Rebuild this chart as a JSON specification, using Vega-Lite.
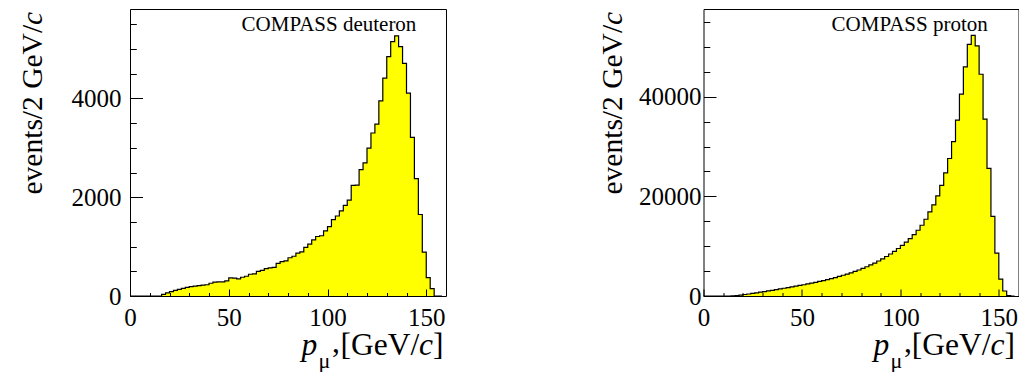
{
  "$schema": "https://vega.github.io/schema/vega-lite/v6.json",
  "background": "white",
  "padding": {"left": 16, "top": 8, "right": 0, "bottom": 0},
  "spacing": 257.5,
  "bounds": "flush",
  "datasets": {
    "deuteron": [
      {"p": 0, "n": 0}, {"p": 2, "n": 0}, {"p": 4, "n": 0}, {"p": 6, "n": 0},
      {"p": 8, "n": 0}, {"p": 10, "n": 0}, {"p": 12, "n": 0}, {"p": 14, "n": 0},
      {"p": 16, "n": 34}, {"p": 18, "n": 65}, {"p": 20, "n": 90}, {"p": 22, "n": 115},
      {"p": 24, "n": 135}, {"p": 26, "n": 155}, {"p": 28, "n": 175}, {"p": 30, "n": 190},
      {"p": 32, "n": 200}, {"p": 34, "n": 212}, {"p": 36, "n": 222}, {"p": 38, "n": 228},
      {"p": 40, "n": 258}, {"p": 42, "n": 282}, {"p": 44, "n": 285}, {"p": 46, "n": 285},
      {"p": 48, "n": 305}, {"p": 50, "n": 365}, {"p": 52, "n": 360}, {"p": 54, "n": 345},
      {"p": 56, "n": 380}, {"p": 58, "n": 400}, {"p": 60, "n": 440}, {"p": 62, "n": 448},
      {"p": 64, "n": 500}, {"p": 66, "n": 520}, {"p": 68, "n": 555}, {"p": 70, "n": 570},
      {"p": 72, "n": 578}, {"p": 74, "n": 660}, {"p": 76, "n": 695}, {"p": 78, "n": 712},
      {"p": 80, "n": 774}, {"p": 82, "n": 805}, {"p": 84, "n": 868}, {"p": 86, "n": 895},
      {"p": 88, "n": 985}, {"p": 90, "n": 1050}, {"p": 92, "n": 1135}, {"p": 94, "n": 1205},
      {"p": 96, "n": 1220}, {"p": 98, "n": 1320}, {"p": 100, "n": 1405}, {"p": 102, "n": 1545},
      {"p": 104, "n": 1620}, {"p": 106, "n": 1725}, {"p": 108, "n": 1835}, {"p": 110, "n": 1940},
      {"p": 112, "n": 2240}, {"p": 114, "n": 2245}, {"p": 116, "n": 2560}, {"p": 118, "n": 2695},
      {"p": 120, "n": 2995}, {"p": 122, "n": 3300}, {"p": 124, "n": 3480}, {"p": 126, "n": 3950},
      {"p": 128, "n": 4410}, {"p": 130, "n": 4845}, {"p": 132, "n": 5150}, {"p": 134, "n": 5265},
      {"p": 136, "n": 5050}, {"p": 138, "n": 4710}, {"p": 140, "n": 4105}, {"p": 142, "n": 3210},
      {"p": 144, "n": 2375}, {"p": 146, "n": 1650}, {"p": 148, "n": 890}, {"p": 150, "n": 370},
      {"p": 152, "n": 148}, {"p": 154, "n": 0}, {"p": 156, "n": 0}, {"p": 158, "n": 0}
    ],
    "proton": [
      {"p": 0, "n": 0}, {"p": 2, "n": 0}, {"p": 4, "n": 0}, {"p": 6, "n": 0},
      {"p": 8, "n": 0}, {"p": 10, "n": 0}, {"p": 12, "n": 0}, {"p": 14, "n": 10},
      {"p": 16, "n": 60}, {"p": 18, "n": 170}, {"p": 20, "n": 300}, {"p": 22, "n": 400},
      {"p": 24, "n": 520}, {"p": 26, "n": 640}, {"p": 28, "n": 760}, {"p": 30, "n": 890},
      {"p": 32, "n": 1010}, {"p": 34, "n": 1140}, {"p": 36, "n": 1270}, {"p": 38, "n": 1420},
      {"p": 40, "n": 1560}, {"p": 42, "n": 1700}, {"p": 44, "n": 1840}, {"p": 46, "n": 1980},
      {"p": 48, "n": 2120}, {"p": 50, "n": 2260}, {"p": 52, "n": 2420}, {"p": 54, "n": 2580},
      {"p": 56, "n": 2740}, {"p": 58, "n": 2920}, {"p": 60, "n": 3100}, {"p": 62, "n": 3290},
      {"p": 64, "n": 3480}, {"p": 66, "n": 3690}, {"p": 68, "n": 3920}, {"p": 70, "n": 4160},
      {"p": 72, "n": 4400}, {"p": 74, "n": 4650}, {"p": 76, "n": 4930}, {"p": 78, "n": 5220},
      {"p": 80, "n": 5530}, {"p": 82, "n": 5870}, {"p": 84, "n": 6230}, {"p": 86, "n": 6610},
      {"p": 88, "n": 7020}, {"p": 90, "n": 7460}, {"p": 92, "n": 7930}, {"p": 94, "n": 8430},
      {"p": 96, "n": 8960}, {"p": 98, "n": 9530}, {"p": 100, "n": 10150}, {"p": 102, "n": 10800},
      {"p": 104, "n": 11500}, {"p": 106, "n": 12300}, {"p": 108, "n": 13200}, {"p": 110, "n": 14200},
      {"p": 112, "n": 15400}, {"p": 114, "n": 16900}, {"p": 116, "n": 18300}, {"p": 118, "n": 20100},
      {"p": 120, "n": 22200}, {"p": 122, "n": 24700}, {"p": 124, "n": 27600}, {"p": 126, "n": 31000},
      {"p": 128, "n": 35300}, {"p": 130, "n": 40500}, {"p": 132, "n": 46000}, {"p": 134, "n": 50500},
      {"p": 136, "n": 52300}, {"p": 138, "n": 50200}, {"p": 140, "n": 44500}, {"p": 142, "n": 35500},
      {"p": 144, "n": 25600}, {"p": 146, "n": 16000}, {"p": 148, "n": 8600}, {"p": 150, "n": 3400},
      {"p": 152, "n": 1000}, {"p": 154, "n": 100}, {"p": 156, "n": 0}, {"p": 158, "n": 0}
    ]
  },
  "hconcat": [
    {
      "width": 316,
      "height": 287,
      "data": {"name": "deuteron"},
      "layer": [
        {
          "mark": {"type": "area", "interpolate": "step-after", "color": "#ffff00"},
          "encoding": {
            "x": {"field": "p", "type": "quantitative", "scale": {"domain": [0, 160], "nice": false, "zero": false},
              "axis": {"orient": "bottom", "values": [0, 10, 20, 30, 40, 50, 60, 70, 80, 90, 100, 110, 120, 130, 140, 150],
                "domain": false, "grid": false, "zindex": 1, "tickColor": "black", "tickWidth": 1,
                "tickSize": {"condition": {"test": "datum.value % 50 === 0", "value": -7}, "value": -3.5},
                "format": "d", "labelExpr": "datum.value % 50 === 0 ? datum.label : ''",
                "labelFont": "Liberation Serif", "labelFontSize": 25, "labelColor": "black", "labelBaseline": "alphabetic",
                "labelPadding": 36, "labelFlush": false, "labelOverlap": false,
                "title": "p", "titleFont": "Liberation Serif", "titleFontSize": 31.5, "titleFontStyle": "italic", "titleFontWeight": "normal",
                "titleColor": "black", "titleAlign": "left", "titleBaseline": "alphabetic", "titleX": 171, "titleY": 58}},
            "y": {"field": "n", "type": "quantitative", "scale": {"domain": [0, 5810], "nice": false},
              "axis": {"orient": "left", "values": [0, 500, 1000, 1500, 2000, 2500, 3000, 3500, 4000, 4500, 5000, 5500],
                "domain": false, "grid": false, "zindex": 1, "tickColor": "black", "tickWidth": 1,
                "tickSize": {"condition": {"test": "datum.value % 2000 === 0", "value": -12.5}, "value": -6.3},
                "format": "d", "labelExpr": "datum.value % 2000 === 0 ? datum.label : ''",
                "labelFont": "Liberation Serif", "labelFontSize": 25, "labelColor": "black", "labelBaseline": "middle", "labelAlign": "right",
                "labelPadding": 21.5, "labelFlush": false, "labelOverlap": false,
                "title": "events/2 GeV/", "titleFont": "Liberation Serif", "titleFontSize": 29.5, "titleFontWeight": "normal",
                "titleColor": "black", "titleAngle": 270, "titleAlign": "left", "titleBaseline": "alphabetic", "titleX": -89, "titleY": 185}}
          }
        },
        {
          "mark": {"type": "line", "interpolate": "step-after", "color": "black", "strokeWidth": 1.2},
          "encoding": {
            "x": {"field": "p", "type": "quantitative", "scale": {"domain": [0, 160], "nice": false, "zero": false},
              "axis": {"orient": "bottom", "domain": false, "ticks": false, "labels": false, "grid": false,
                "title": "μ", "titleFont": "Liberation Serif", "titleFontSize": 22, "titleFontWeight": "normal", "titleColor": "black",
                "titleAlign": "left", "titleBaseline": "alphabetic", "titleX": 188, "titleY": 71}},
            "y": {"field": "n", "type": "quantitative", "scale": {"domain": [0, 5810], "nice": false},
              "axis": {"orient": "left", "domain": false, "ticks": false, "labels": false, "grid": false,
                "title": "c", "titleFont": "Liberation Serif", "titleFontSize": 29.5, "titleFontStyle": "italic", "titleFontWeight": "normal",
                "titleColor": "black", "titleAngle": 270, "titleAlign": "left", "titleBaseline": "alphabetic", "titleX": -89, "titleY": 15.5}}
          }
        },
        {
          "mark": {"type": "line", "strokeOpacity": 0},
          "encoding": {
            "x": {"field": "p", "type": "quantitative", "scale": {"domain": [0, 160], "nice": false, "zero": false},
              "axis": {"orient": "bottom", "domain": false, "ticks": false, "labels": false, "grid": false,
                "title": ",", "titleFont": "Liberation Serif", "titleFontSize": 31.5, "titleFontWeight": "normal", "titleColor": "black",
                "titleAlign": "left", "titleBaseline": "alphabetic", "titleX": 201.5, "titleY": 55}},
            "y": {"field": "n", "type": "quantitative", "scale": {"domain": [0, 5810], "nice": false}, "axis": null}
          }
        },
        {
          "mark": {"type": "line", "strokeOpacity": 0},
          "encoding": {
            "x": {"field": "p", "type": "quantitative", "scale": {"domain": [0, 160], "nice": false, "zero": false},
              "axis": {"orient": "bottom", "domain": false, "ticks": false, "labels": false, "grid": false,
                "title": "[GeV/", "titleFont": "Liberation Serif", "titleFontSize": 31.5, "titleFontWeight": "normal", "titleColor": "black",
                "titleAlign": "left", "titleBaseline": "alphabetic", "titleX": 210, "titleY": 58}},
            "y": {"field": "n", "type": "quantitative", "scale": {"domain": [0, 5810], "nice": false}, "axis": null}
          }
        },
        {
          "mark": {"type": "line", "strokeOpacity": 0},
          "encoding": {
            "x": {"field": "p", "type": "quantitative", "scale": {"domain": [0, 160], "nice": false, "zero": false},
              "axis": {"orient": "bottom", "domain": false, "ticks": false, "labels": false, "grid": false,
                "title": "c", "titleFont": "Liberation Serif", "titleFontSize": 31.5, "titleFontStyle": "italic", "titleFontWeight": "normal", "titleColor": "black",
                "titleAlign": "left", "titleBaseline": "alphabetic", "titleX": 288.6, "titleY": 58}},
            "y": {"field": "n", "type": "quantitative", "scale": {"domain": [0, 5810], "nice": false}, "axis": null}
          }
        },
        {
          "mark": {"type": "line", "strokeOpacity": 0},
          "encoding": {
            "x": {"field": "p", "type": "quantitative", "scale": {"domain": [0, 160], "nice": false, "zero": false},
              "axis": {"orient": "bottom", "domain": false, "ticks": false, "labels": false, "grid": false,
                "title": "]", "titleFont": "Liberation Serif", "titleFontSize": 31.5, "titleFontWeight": "normal", "titleColor": "black",
                "titleAlign": "left", "titleBaseline": "alphabetic", "titleX": 302.6, "titleY": 58}},
            "y": {"field": "n", "type": "quantitative", "scale": {"domain": [0, 5810], "nice": false}, "axis": null}
          }
        },
        {
          "data": {"values": [{"label": "COMPASS deuteron"}]},
          "mark": {"type": "text", "align": "right", "baseline": "alphabetic", "font": "Liberation Serif", "fontSize": 21, "color": "black"},
          "encoding": {
            "text": {"field": "label"},
            "x": {"datum": 145, "type": "quantitative", "scale": {"domain": [0, 160], "nice": false, "zero": false}, "axis": null},
            "y": {"datum": 5357, "type": "quantitative", "scale": {"domain": [0, 5810], "nice": false}, "axis": null}
          }
        }
      ],
      "resolve": {"axis": {"x": "independent", "y": "independent"}}
    },
    {
      "width": 315,
      "height": 287,
      "data": {"name": "proton"},
      "layer": [
        {
          "mark": {"type": "area", "interpolate": "step-after", "color": "#ffff00"},
          "encoding": {
            "x": {"field": "p", "type": "quantitative", "scale": {"domain": [0, 160], "nice": false, "zero": false},
              "axis": {"orient": "bottom", "values": [0, 10, 20, 30, 40, 50, 60, 70, 80, 90, 100, 110, 120, 130, 140, 150],
                "domain": false, "grid": false, "zindex": 1, "tickColor": "black", "tickWidth": 1,
                "tickSize": {"condition": {"test": "datum.value % 50 === 0", "value": -7}, "value": -3.5},
                "format": "d", "labelExpr": "datum.value % 50 === 0 ? datum.label : ''",
                "labelFont": "Liberation Serif", "labelFontSize": 25, "labelColor": "black", "labelBaseline": "alphabetic",
                "labelPadding": 36, "labelFlush": false, "labelOverlap": false,
                "title": "p", "titleFont": "Liberation Serif", "titleFontSize": 31.5, "titleFontStyle": "italic", "titleFontWeight": "normal",
                "titleColor": "black", "titleAlign": "left", "titleBaseline": "alphabetic", "titleX": 169.5, "titleY": 58}},
            "y": {"field": "n", "type": "quantitative", "scale": {"domain": [0, 57600], "nice": false},
              "axis": {"orient": "left", "values": [0, 5000, 10000, 15000, 20000, 25000, 30000, 35000, 40000, 45000, 50000, 55000],
                "domain": false, "grid": false, "zindex": 1, "tickColor": "black", "tickWidth": 1,
                "tickSize": {"condition": {"test": "datum.value % 20000 === 0", "value": -12.5}, "value": -6.3},
                "format": "d", "labelExpr": "datum.value % 20000 === 0 ? datum.label : ''",
                "labelFont": "Liberation Serif", "labelFontSize": 25, "labelColor": "black", "labelBaseline": "middle", "labelAlign": "right",
                "labelPadding": 15, "labelFlush": false, "labelOverlap": false,
                "title": "events/2 GeV/", "titleFont": "Liberation Serif", "titleFontSize": 29.5, "titleFontWeight": "normal",
                "titleColor": "black", "titleAngle": 270, "titleAlign": "left", "titleBaseline": "alphabetic", "titleX": -82.5, "titleY": 185}}
          }
        },
        {
          "mark": {"type": "line", "interpolate": "step-after", "color": "black", "strokeWidth": 1.2},
          "encoding": {
            "x": {"field": "p", "type": "quantitative", "scale": {"domain": [0, 160], "nice": false, "zero": false},
              "axis": {"orient": "bottom", "domain": false, "ticks": false, "labels": false, "grid": false,
                "title": "μ", "titleFont": "Liberation Serif", "titleFontSize": 22, "titleFontWeight": "normal", "titleColor": "black",
                "titleAlign": "left", "titleBaseline": "alphabetic", "titleX": 186.5, "titleY": 71}},
            "y": {"field": "n", "type": "quantitative", "scale": {"domain": [0, 57600], "nice": false},
              "axis": {"orient": "left", "domain": false, "ticks": false, "labels": false, "grid": false,
                "title": "c", "titleFont": "Liberation Serif", "titleFontSize": 29.5, "titleFontStyle": "italic", "titleFontWeight": "normal",
                "titleColor": "black", "titleAngle": 270, "titleAlign": "left", "titleBaseline": "alphabetic", "titleX": -82.5, "titleY": 15.5}}
          }
        },
        {
          "mark": {"type": "line", "strokeOpacity": 0},
          "encoding": {
            "x": {"field": "p", "type": "quantitative", "scale": {"domain": [0, 160], "nice": false, "zero": false},
              "axis": {"orient": "bottom", "domain": false, "ticks": false, "labels": false, "grid": false,
                "title": ",", "titleFont": "Liberation Serif", "titleFontSize": 31.5, "titleFontWeight": "normal", "titleColor": "black",
                "titleAlign": "left", "titleBaseline": "alphabetic", "titleX": 200, "titleY": 55}},
            "y": {"field": "n", "type": "quantitative", "scale": {"domain": [0, 57600], "nice": false}, "axis": null}
          }
        },
        {
          "mark": {"type": "line", "strokeOpacity": 0},
          "encoding": {
            "x": {"field": "p", "type": "quantitative", "scale": {"domain": [0, 160], "nice": false, "zero": false},
              "axis": {"orient": "bottom", "domain": false, "ticks": false, "labels": false, "grid": false,
                "title": "[GeV/", "titleFont": "Liberation Serif", "titleFontSize": 31.5, "titleFontWeight": "normal", "titleColor": "black",
                "titleAlign": "left", "titleBaseline": "alphabetic", "titleX": 207.7, "titleY": 58}},
            "y": {"field": "n", "type": "quantitative", "scale": {"domain": [0, 57600], "nice": false}, "axis": null}
          }
        },
        {
          "mark": {"type": "line", "strokeOpacity": 0},
          "encoding": {
            "x": {"field": "p", "type": "quantitative", "scale": {"domain": [0, 160], "nice": false, "zero": false},
              "axis": {"orient": "bottom", "domain": false, "ticks": false, "labels": false, "grid": false,
                "title": "c", "titleFont": "Liberation Serif", "titleFontSize": 31.5, "titleFontStyle": "italic", "titleFontWeight": "normal", "titleColor": "black",
                "titleAlign": "left", "titleBaseline": "alphabetic", "titleX": 286.4, "titleY": 58}},
            "y": {"field": "n", "type": "quantitative", "scale": {"domain": [0, 57600], "nice": false}, "axis": null}
          }
        },
        {
          "mark": {"type": "line", "strokeOpacity": 0},
          "encoding": {
            "x": {"field": "p", "type": "quantitative", "scale": {"domain": [0, 160], "nice": false, "zero": false},
              "axis": {"orient": "bottom", "domain": false, "ticks": false, "labels": false, "grid": false,
                "title": "]", "titleFont": "Liberation Serif", "titleFontSize": 31.5, "titleFontWeight": "normal", "titleColor": "black",
                "titleAlign": "left", "titleBaseline": "alphabetic", "titleX": 300.4, "titleY": 58}},
            "y": {"field": "n", "type": "quantitative", "scale": {"domain": [0, 57600], "nice": false}, "axis": null}
          }
        },
        {
          "data": {"values": [{"label": "COMPASS proton"}]},
          "mark": {"type": "text", "align": "right", "baseline": "alphabetic", "font": "Liberation Serif", "fontSize": 21, "color": "black"},
          "encoding": {
            "text": {"field": "label"},
            "x": {"datum": 144.4, "type": "quantitative", "scale": {"domain": [0, 160], "nice": false, "zero": false}, "axis": null},
            "y": {"datum": 53100, "type": "quantitative", "scale": {"domain": [0, 57600], "nice": false}, "axis": null}
          }
        }
      ],
      "resolve": {"axis": {"x": "independent", "y": "independent"}}
    }
  ],
  "config": {
    "view": {"stroke": "black", "strokeWidth": 1},
    "font": "Liberation Serif"
  }
}
